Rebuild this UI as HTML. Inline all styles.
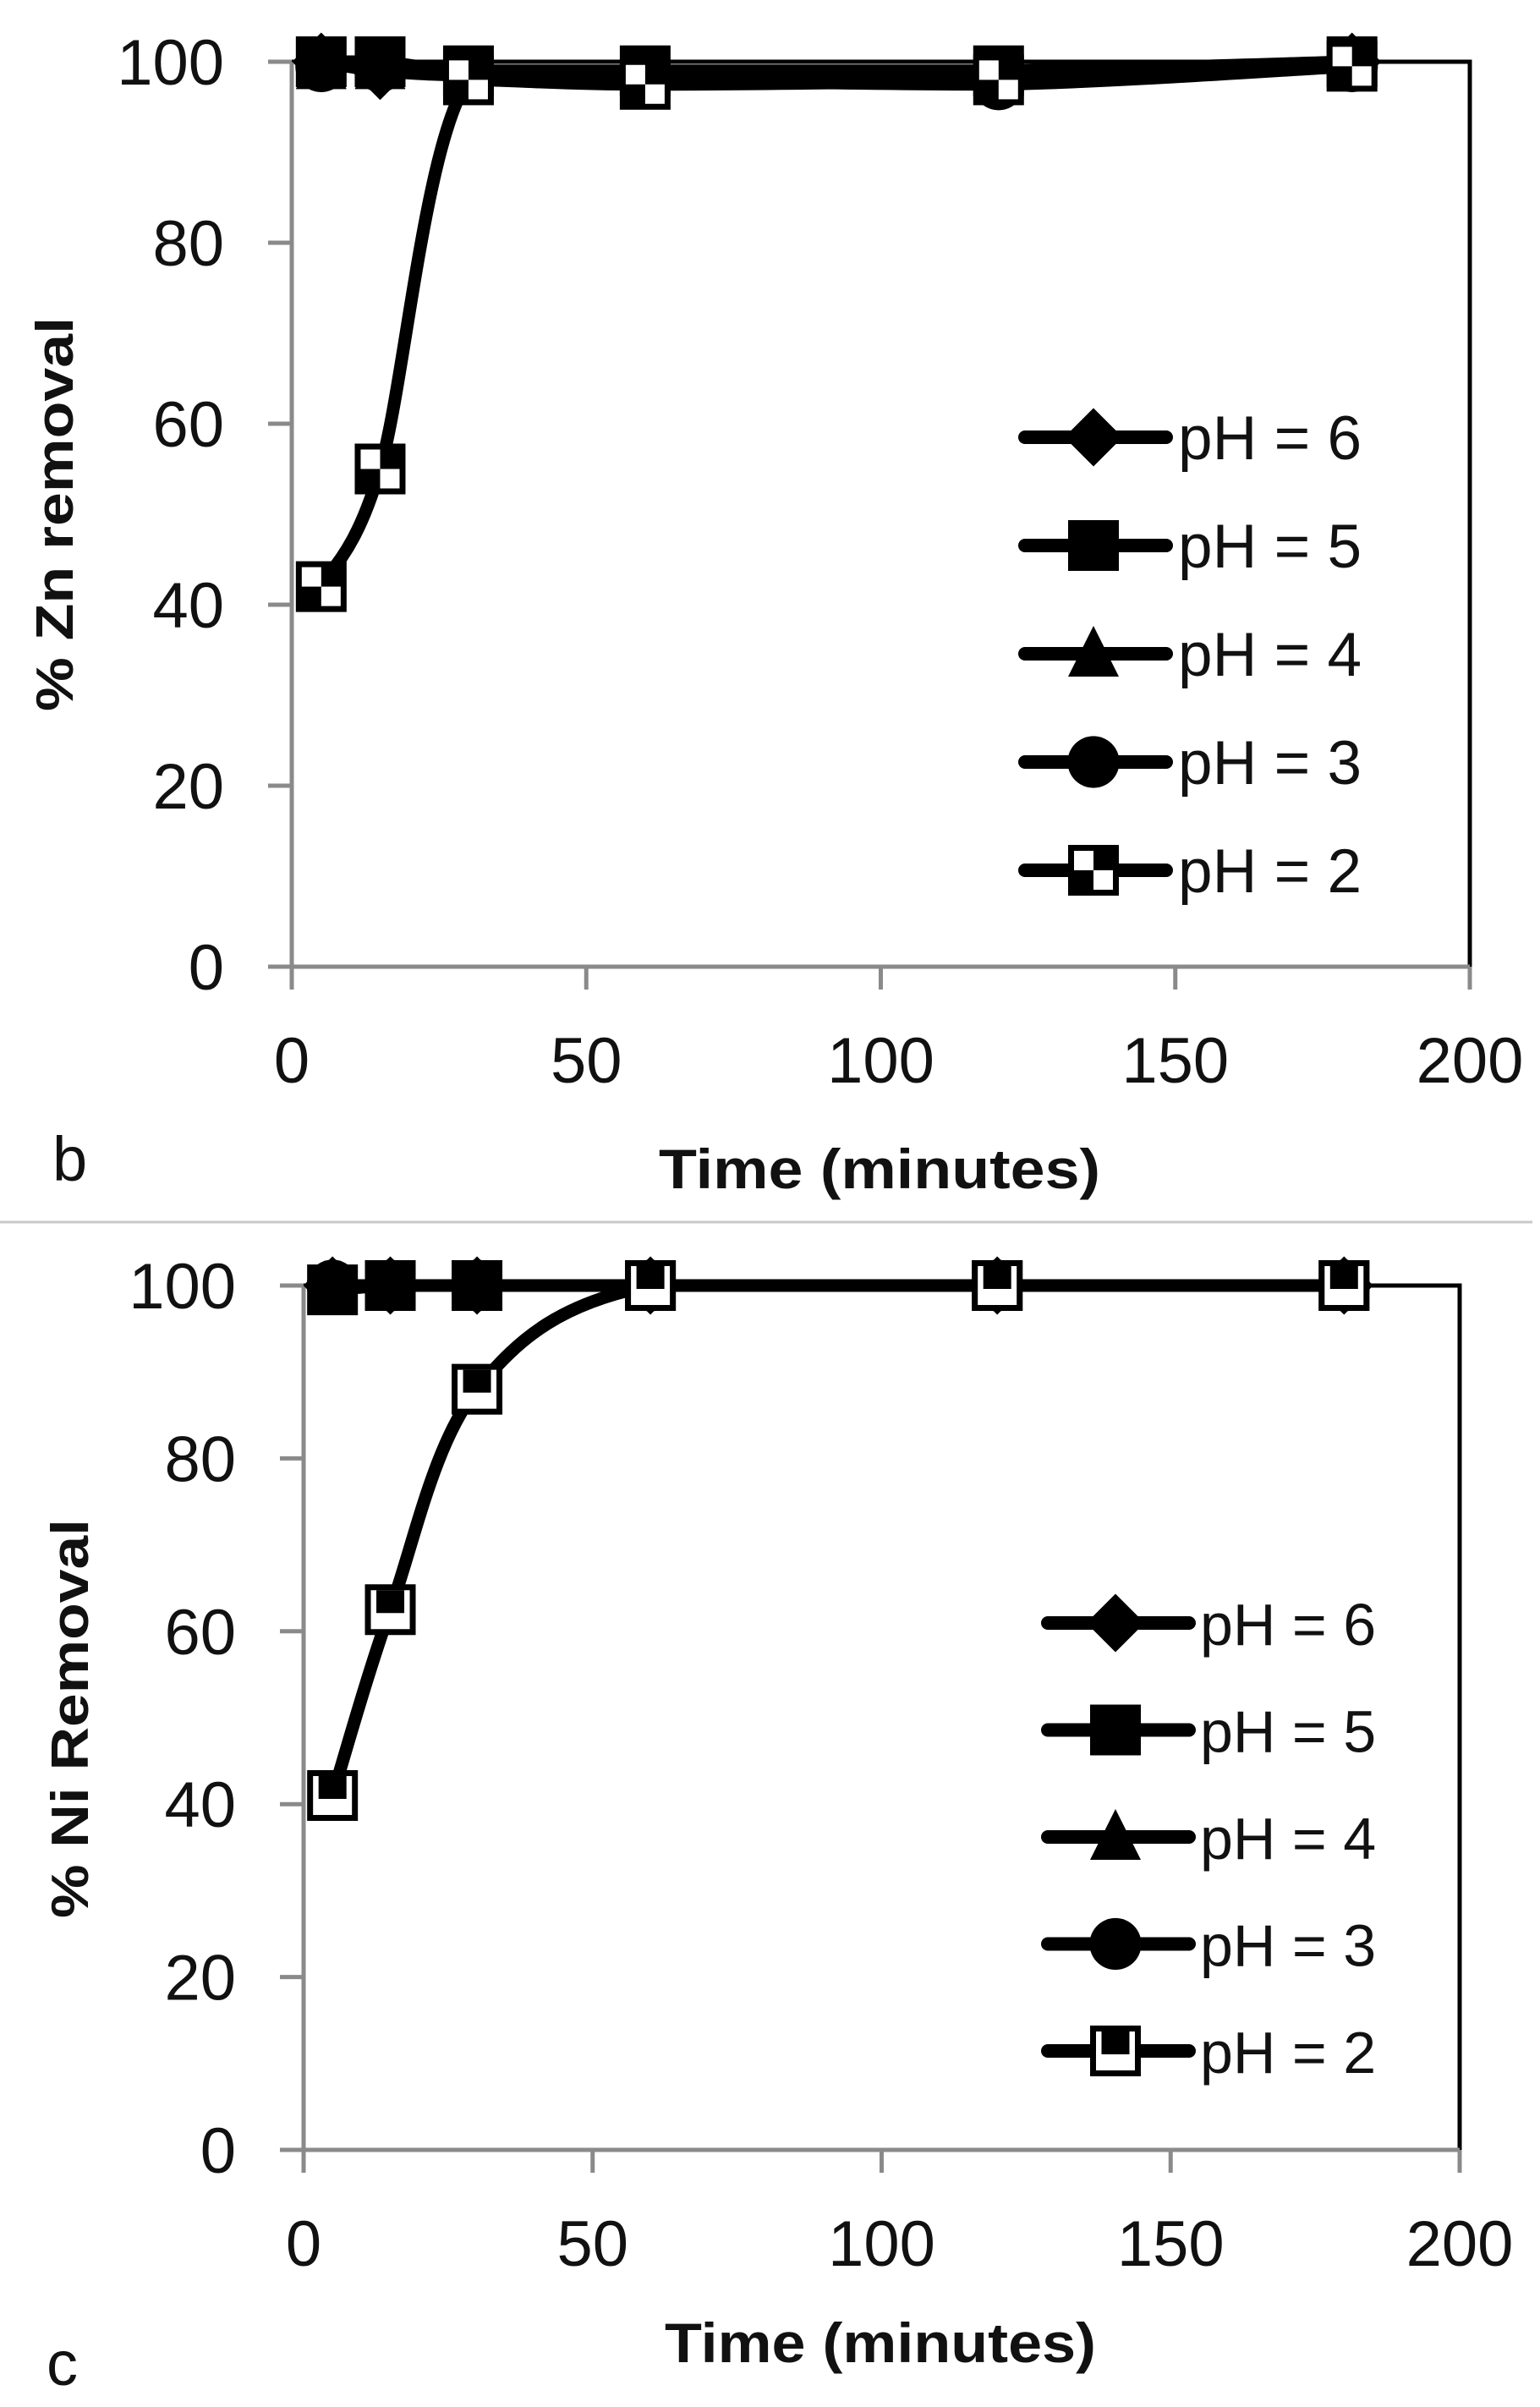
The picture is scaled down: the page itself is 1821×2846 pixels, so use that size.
<!DOCTYPE html>
<html><head><meta charset="utf-8"><style>
html,body{margin:0;padding:0;background:#fff;}
svg{display:block;font-family:"Liberation Sans",sans-serif;}
</style></head><body>
<svg id="fig" width="1821" height="2846" viewBox="0 0 1821 2846" xmlns="http://www.w3.org/2000/svg"></svg>
<script>
const NS="http://www.w3.org/2000/svg";
// ---- data ----
const timesB=[5,15,30,60,120,180];
const znPH6=[100,99,98.5,98.5,98.5,100];
const znPH5=[100,100,99,99,99,100];
const znPH4=[99.5,99.5,98.5,98.5,98.5,99.5];
const znPH3=[99.5,99.5,98.5,98,97.5,99.5];
const znPH2=[42,55,98,97.5,98,99.5];
const timesC=[5,15,30,60,120,180];
const niPH6=[100,100,100,100,100,100];
const niPH5=[99.5,100,100,100,100,100];
const niPH4=[100,100,100,100,100,100];
const niPH3=[100,100,100,100,100,100];
const niPH2=[41,62.5,88,100,100,100];
const xTicks=[0,50,100,150,200];
const yTicks=[0,20,40,60,80,100];
const legendLabels=["pH = 6","pH = 5","pH = 4","pH = 3","pH = 2"];
const markerTypes=["diamond","square","triangle","circle","check"];

const svg=document.getElementById('fig');
function mk(tag,attrs,parent){const e=document.createElementNS(NS,tag);for(const k in attrs)e.setAttribute(k,attrs[k]);(parent||svg).appendChild(e);return e;}

function clamp(v,a,b){const lo=Math.min(a,b),hi=Math.max(a,b);return Math.max(lo,Math.min(hi,v));}
function smoothPath(pts){
  let d=`M${pts[0][0]},${pts[0][1]}`;
  for(let i=0;i<pts.length-1;i++){
    const p0=pts[Math.max(0,i-1)],p1=pts[i],p2=pts[i+1],p3=pts[Math.min(pts.length-1,i+2)];
    const c1=[p1[0]+(p2[0]-p0[0])/6,clamp(p1[1]+(p2[1]-p0[1])/6,p1[1],p2[1])];
    const c2=[p2[0]-(p3[0]-p1[0])/6,clamp(p2[1]-(p3[1]-p1[1])/6,p1[1],p2[1])];
    d+=` C${c1[0]},${c1[1]} ${c2[0]},${c2[1]} ${p2[0]},${p2[1]}`;
  }
  return d;
}

function marker(g,type,cx,cy,s,variant){
  const h=s/2;let e;
  if(type==="diamond"){e=mk('polygon',{points:`${cx},${cy-h*1.15} ${cx+h*1.15},${cy} ${cx},${cy+h*1.15} ${cx-h*1.15},${cy}`,fill:'#000'},g);}
  else if(type==="square"){e=mk('rect',{x:cx-h,y:cy-h,width:s,height:s,fill:'#000'},g);}
  else if(type==="triangle"){e=mk('polygon',{points:`${cx},${cy-h*1.1} ${cx+h},${cy+h*0.9} ${cx-h},${cy+h*0.9}`,fill:'#000'},g);}
  else if(type==="circle"){e=mk('circle',{cx:cx,cy:cy,r:h*1.02,fill:'#000'},g);}
  else{
    e=mk('g',{},g);
    mk('rect',{x:cx-h,y:cy-h,width:s,height:s,fill:'#000'},e);
    if(variant==="b"){
      mk('rect',{x:cx-h+7,y:cy-h+7,width:h-7,height:h-7,fill:'#fff'},e);
      mk('rect',{x:cx,y:cy,width:h-7,height:h-7,fill:'#fff'},e);
    }else{
      mk('rect',{x:cx-h+7,y:cy-h+7,width:s-14,height:s-14,fill:'#fff'},e);
      mk('rect',{x:cx-h*0.55,y:cy-h+7,width:h*1.1,height:h*0.9,fill:'#000'},e);
    }
  }
  return e;
}

function chart(cfg){
  const g=mk('g',{});
  
  
  const X=v=>cfg.x0+(v-0)/200*(cfg.x1-cfg.x0);
  const Y=v=>cfg.y0-(v/100)*(cfg.y0-cfg.y1);
  const fr=mk('path',{d:`M${cfg.x0},${cfg.y1} H${cfg.x1} V${cfg.y0}`,fill:'none',stroke:'#000','stroke-width':5},g);
  
  const ax=mk('path',{d:`M${cfg.x0},${cfg.y1} V${cfg.y0} H${cfg.x1}`,fill:'none',stroke:'#8a8a8a','stroke-width':5},g);
  
  yTicks.forEach(t=>{
    const y=Y(t);
    const tk=mk('line',{x1:cfg.x0-28,x2:cfg.x0,y1:y,y2:y,stroke:'#8a8a8a','stroke-width':5},g);
    
    const tx=mk('text',{x:cfg.x0-80,y:y+27,'text-anchor':'end','font-size':76,fill:'#111'},g);
    tx.textContent=t;
    
  });
  xTicks.forEach(t=>{
    const x=X(t);
    const tk=mk('line',{x1:x,x2:x,y1:cfg.y0,y2:cfg.y0+27,stroke:'#8a8a8a','stroke-width':5},g);
    
    const tx=mk('text',{x:x,y:cfg.y0+137,'text-anchor':'middle','font-size':76,fill:'#111'},g);
    tx.textContent=t;
    
  });
  cfg.series.forEach((vals,si)=>{
    const sg=mk('g',{},g);
    
    
    const pts=cfg.times.map((t,i)=>[X(t),Y(vals[i])]);
    const ln=mk('path',{d:smoothPath(pts),fill:'none',stroke:'#000','stroke-width':15,'stroke-linejoin':'round','stroke-linecap':'round'},sg);
    
    pts.forEach(p=>{
      const m=marker(sg,markerTypes[si],p[0],p[1],60,cfg.variant);
      
      
    });
  });
  const lg=mk('g',{},g);
  
  legendLabels.forEach((lab,i)=>{
    const y=cfg.legY+i*cfg.legDy;
    const eg=mk('g',{},lg);
    
    mk('line',{x1:cfg.legX1,x2:cfg.legX2,y1:y,y2:y,stroke:'#000','stroke-width':16,'stroke-linecap':'round'},eg);
    marker(eg,markerTypes[i],cfg.legMx,y,60,cfg.variant);
    const t=mk('text',{x:cfg.legTx,y:y+26,'font-size':cfg.legFs,fill:'#111'},eg);
    t.textContent=lab;
  });
  const xt=mk('text',{x:cfg.xtX,y:cfg.xtY,'text-anchor':'middle','font-size':66,'font-weight':'bold',textLength:cfg.xtLen,lengthAdjust:'spacingAndGlyphs',fill:'#111'},g);
  xt.textContent='Time (minutes)';
  
  const yt=mk('text',{x:0,y:0,'text-anchor':'middle','font-size':62,'font-weight':'bold',textLength:cfg.ytLen,lengthAdjust:'spacingAndGlyphs',fill:'#111',transform:`translate(${cfg.ytX},${cfg.ytY}) rotate(-90)`},g);
  yt.textContent=cfg.ytitle;
  
  const pl=mk('text',{x:cfg.plX,y:cfg.plY,'font-size':74,fill:'#111'},g);
  pl.textContent=cfg.panel;
  
}

chart({name:'chart-zn-removal',variant:'b',x0:345,x1:1738,y0:1143,y1:73,times:timesB,
  series:[znPH6,znPH5,znPH4,znPH3,znPH2],
  legY:517,legDy:128,legX1:1212,legX2:1379,legMx:1293,legTx:1393,legFs:73,
  xtX:1040,xtY:1405,xtLen:522,ytX:86,ytY:608,ytLen:466,ytitle:'% Zn removal',plX:62,plY:1396,panel:'b'});

const sep=mk('line',{x1:0,x2:1812,y1:1445,y2:1445,stroke:'#c8c8c8','stroke-width':3});


chart({name:'chart-ni-removal',variant:'c',x0:359,x1:1726,y0:2542,y1:1520,times:timesC,
  series:[niPH6,niPH5,niPH4,niPH3,niPH2],
  legY:1919,legDy:126.5,legX1:1239,legX2:1406,legMx:1319,legTx:1419,legFs:70,
  xtX:1041,xtY:2793,xtLen:510,ytX:104,ytY:2032,ytLen:472,ytitle:'% Ni Removal',plX:55,plY:2820,panel:'c'});
</script>
</body></html>
